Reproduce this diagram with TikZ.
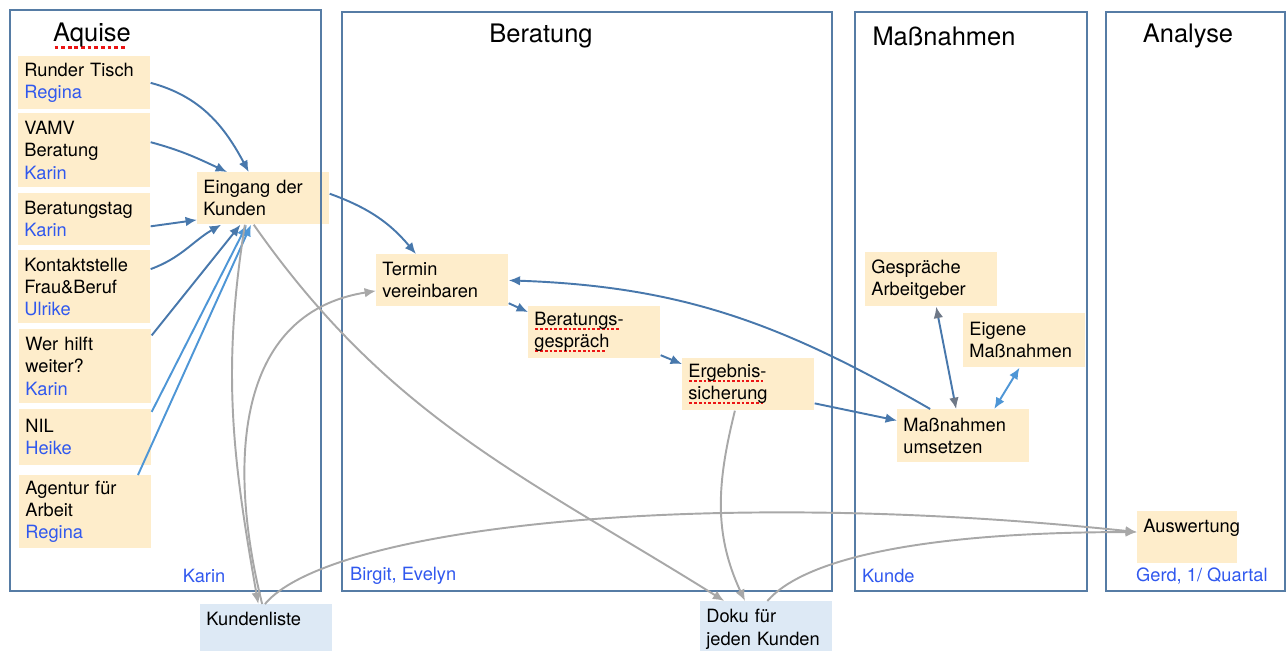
\documentclass[tikz,border=0pt]{standalone}
\usepackage{fontspec}
\setmainfont{TeX Gyre Heros}
\usetikzlibrary{arrows.meta}

\definecolor{cardfill}{RGB}{254,237,203}
\definecolor{listfill}{RGB}{221,233,245}
\definecolor{lanecol}{RGB}{86,124,165}
\definecolor{flowcol}{RGB}{72,120,172}
\definecolor{flowlight}{RGB}{78,150,214}
\definecolor{whocol}{RGB}{48,88,238}
\definecolor{doccol}{RGB}{168,168,168}
\definecolor{tipgray}{RGB}{110,120,135}
\definecolor{markred}{RGB}{235,20,20}

\newcommand\who[1]{\textcolor{whocol}{#1}}
\newsavebox\markbox
\newcommand\redmark[1]{\leavevmode\sbox\markbox{#1}\rlap{\raisebox{-0.5ex}{\hbox to \wd\markbox{\leaders\hbox to 0.26em{\hss\textcolor{markred}{\rule{0.15em}{0.22ex}}\hss}\hfill}}}\usebox\markbox}

\tikzset{
	card/.style={fill=cardfill, anchor=north west, align=left, text width=2.4cm, inner xsep=0.12cm, inner ysep=0pt, font=\fontsize{10.4}{12.6}\selectfont},
	listcard/.style={card, fill=listfill},
	lanehead/.style={font=\fontsize{14.5}{17}\selectfont},
	owner/.style={text=whocol, inner sep=1pt, font=\fontsize{10.4}{12.6}\selectfont},
	flowarrow/.style={draw=flowcol, line width=1.1pt, -{Latex[length=6.5pt,width=5.5pt]}},
	lightarrow/.style={flowarrow, draw=flowlight},
	docarrow/.style={flowarrow, draw=doccol},
	lane/.style={draw=lanecol, line width=1.1pt}
}

\begin{document}
\begin{tikzpicture}[x=0.02cm, y=-0.02cm]
	\useasboundingbox (0,0) rectangle (1287,650);

	% Aquise
	\node[card, minimum height=1.06cm] (rt) at (18,56) {Runder Tisch\\\who{Regina}};
	\node[card, minimum height=1.48cm] (vamv) at (18,113) {VAMV\\Beratung\\\who{Karin}};
	\node[card, minimum height=1.04cm] (btag) at (18,193) {Beratungstag\\\who{Karin}};
	\node[card, minimum height=1.46cm] (kontakt) at (18,250) {Kontaktstelle\\Frau\&Beruf\\\who{Ulrike}};
	\node[card, minimum height=1.48cm] (wer) at (19,329) {Wer hilft\\weiter?\\\who{Karin}};
	\node[card, minimum height=1.12cm] (nil) at (19,409) {NIL\\\who{Heike}};
	\node[card, minimum height=1.46cm] (agentur) at (19,475) {Agentur für\\Arbeit\\\who{Regina}};
	\node[card, minimum height=1.04cm] (eingang) at (197,172) {Eingang der\\Kunden};

	% Beratung
	\node[card, minimum height=1.04cm] (termin) at (376,254) {Termin\\vereinbaren};
	\node[card, minimum height=1.04cm] (gespraech) at (528,306) {\redmark{Beratungs-}\\\redmark{gespräch}};
	\node[card, minimum height=1.04cm] (ergebnis) at (682,358) {\redmark{Ergebnis-}\\\redmark{sicherung}};

	% Massnahmen
	\node[card, minimum height=1.08cm] (arbeitgeber) at (865,252) {Gespräche\\Arbeitgeber};
	\node[card, text width=2.2cm, minimum height=1.08cm] (eigene) at (963,313) {Eigene\\Maßnahmen};
	\node[card, minimum height=1.06cm] (umsetzen) at (897,409) {Maßnahmen\\umsetzen};

	% Analyse
	\node[card, text width=1.76cm, minimum height=1.04cm] (auswertung) at (1137,511) {Auswertung\\\mbox{}};

	% Listen
	\node[listcard, minimum height=1.04cm] (kundenliste) at (200,604) {Kundenliste\\\mbox{}};
	\node[listcard, minimum height=1.12cm] (doku) at (700,601) {Doku für\\jeden Kunden};

	% Spalten
	\draw[lane] (10,10) rectangle (321,591);
	\draw[lane] (342,12) rectangle (832,591);
	\draw[lane] (855,12) rectangle (1087,591);
	\draw[lane] (1106,12) rectangle (1285,591);

	\node[lanehead] (aquise) at (92,36) {\redmark{Aquise}};
	\node[lanehead] (beratung) at (541,36) {Beratung};
	\node[lanehead] (massnahmen) at (944,36) {Maßnahmen};
	\node[lanehead] (analyse) at (1188,36) {Analyse};

	\node[owner] (aquisewho) at (204,576) {Karin};
	\node[owner, anchor=west] (beratungwho) at (348,576) {Birgit, Evelyn};
	\node[owner, anchor=west] (massnahmenwho) at (860,576) {Kunde};
	\node[owner, anchor=west] (analysewho) at (1134,576) {Gerd, 1/ Quartal};

	% Zugang
	\draw[flowarrow] (rt.east) to[out=-15, in=118] (eingang.119);
	\draw[flowarrow] (vamv.7) to[out=-15, in=155] (eingang.144);
	\draw[flowarrow] (btag.-6) -- (eingang.198);
	\draw[flowarrow] (kontakt.15) to[out=20, in=210] (eingang.212);
	\draw[flowarrow] (wer.25) -- (eingang.229);
	\draw[lightarrow] (nil.21) -- (eingang.238);
	\draw[lightarrow] (agentur.35) -- (eingang.245);

	% Ablauf
	\draw[flowarrow] (eingang.4) to[out=-20, in=130] (termin.135);
	\draw[flowarrow] (termin.-19) -- (gespraech.163);
	\draw[flowarrow] (gespraech.-19) -- (ergebnis.163);
	\draw[flowarrow] (ergebnis.-16) -- (umsetzen.167);
	\draw[flowarrow] (umsetzen.141) to[out=150, in=-2] (termin.east);
	\draw[draw=flowcol, line width=1.1pt, {Latex[length=6.5pt,width=5.5pt,color=tipgray]}-{Latex[length=6.5pt,width=5.5pt,color=tipgray]}] (arbeitgeber.-80) -- (umsetzen.105);
	\draw[draw=flowlight, line width=1.1pt, {Latex[length=6.5pt,width=5.5pt]}-{Latex[length=6.5pt,width=5.5pt]}] (eigene.-100) -- (umsetzen.41);

	% Dokumentation
	\draw[docarrow] (eingang.235) to[out=-99, in=100] (kundenliste.107);
	\draw[docarrow] (kundenliste.99) to[out=104, in=189, looseness=1.1] (termin.189);
	\draw[docarrow] (kundenliste.93) to[out=50, in=174, out looseness=0.29, in looseness=1.3] (auswertung.174);
	\draw[docarrow] (eingang.250) to[out=-55, in=148] (doku.146);
	\draw[docarrow] (ergebnis.243) to[out=-104, in=115] (doku.127);
	\draw[docarrow] (doku.88) to[out=49, in=180, out looseness=0.41, in looseness=1.37] (auswertung.174);

\end{tikzpicture}
\end{document}
